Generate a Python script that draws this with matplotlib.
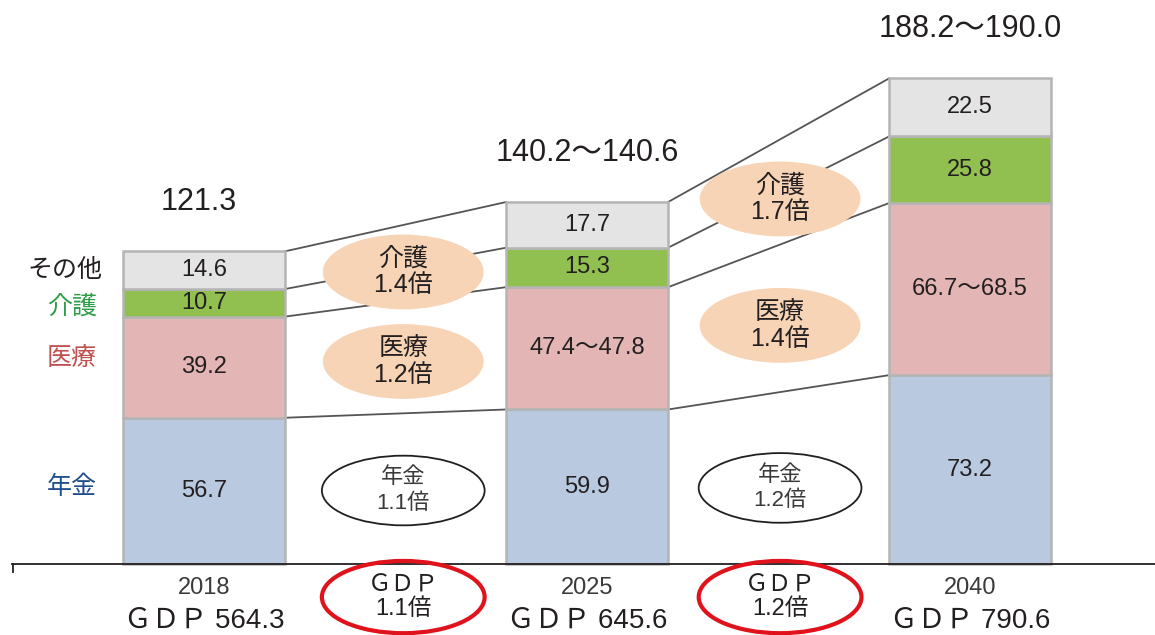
import numpy as np
import matplotlib.pyplot as plt
from matplotlib.patches import Ellipse

plt.rcParams['font.family'] = ['Liberation Sans', 'Noto Sans CJK JP', 'DejaVu Sans']

years = ['2018', '2025', '2040']
pension = [56.7, 59.9, 73.2]
medical = [39.2, 47.4, 66.7]
care = [10.7, 15.3, 25.8]
other = [14.6, 17.7, 22.5]
medical_labels = ['39.2', '47.4～47.8', '66.7～68.5']
totals = ['121.3', '140.2～140.6', '188.2～190.0']
gdp = ['564.3', '645.6', '790.6']

care_ratio = ['1.4倍', '1.7倍']
medical_ratio = ['1.2倍', '1.4倍']
pension_ratio = ['1.1倍', '1.2倍']
gdp_ratio = ['1.1倍', '1.2倍']

series = [pension, medical, care, other]
colors = ['#b8c9e0', '#e3b5b4', '#92c050', '#e4e4e4']
edge = '#b4b4b4'
dark = '#231f20'
w = 0.423

fig = plt.figure(figsize=(11.55, 6.35), dpi=100)
ax = fig.add_axes([0, 0, 1, 1])
ax.set_xlim(-0.533, 2.483)
ax.set_ylim(-27.5, 218.6)
ax.axis('off')

x = np.arange(len(years))
bottom = np.zeros(len(years))
bounds = []
for vals, c in zip(series, colors):
    vals = np.array(vals)
    ax.bar(x, vals, w, bottom=bottom, color=c, edgecolor=edge, linewidth=1.8, zorder=2)
    bottom = bottom + vals
    bounds.append(bottom.copy())

# connector lines between bars
for b in bounds:
    for i in range(len(years) - 1):
        ax.plot([i + w / 2, i + 1 - w / 2], [b[i], b[i + 1]], color='#555555', lw=1.3, zorder=1)

# values inside bars
labels = [[f'{v}' for v in pension], medical_labels, [f'{v}' for v in care], [f'{v}' for v in other]]
bot = np.zeros(len(years))
for vals, labs in zip(series, labels):
    for i in range(len(years)):
        ax.text(x[i], bot[i] + vals[i] / 2, labs[i], ha='center', va='center',
                fontsize=17, color=dark, zorder=3)
    bot = bot + np.array(vals)

# totals on top
for i in range(len(years)):
    ax.text(x[i] - (0.015 if i == 0 else 0), bot[i] + 19, totals[i], ha='center', va='center',
            fontsize=22, color=dark)

# left category labels
ax.text(-0.363, 114, 'その他', ha='center', va='center', fontsize=18, color=dark)
ax.text(-0.345, 99.6, '介護', ha='center', va='center', fontsize=18, color='#2e9e48')
ax.text(-0.345, 79.8, '医療', ha='center', va='center', fontsize=18, color='#c0504d')
ax.text(-0.345, 29.8, '年金', ha='center', va='center', fontsize=18, color='#1f4e8c')

# ratio ellipses between bars
for i in range(len(years) - 1):
    xm = i + 0.5 + (0.02 if i == 0 else 0.004)
    if i == 0:
        yc, ym = 113.2, 78.5
    else:
        yc, ym = 141.5, 92.5
    ax.add_patch(Ellipse((xm, yc), 0.42, 29, facecolor='#f7d4b6', edgecolor='none', zorder=4))
    ax.text(xm, yc, '介護\n' + care_ratio[i], ha='center', va='center', fontsize=18,
            color=dark, linespacing=1.15, zorder=5)
    ax.add_patch(Ellipse((xm, ym), 0.42, 29, facecolor='#f7d4b6', edgecolor='none', zorder=4))
    ax.text(xm, ym, '医療\n' + medical_ratio[i], ha='center', va='center', fontsize=18,
            color=dark, linespacing=1.15, zorder=5)
    yp = 28.5 if i == 0 else 29.5
    ax.add_patch(Ellipse((xm, yp), 0.425, 27, facecolor='white', edgecolor=dark, lw=1.3, zorder=4))
    ax.text(xm, yp, '年金\n' + pension_ratio[i], ha='center', va='center', fontsize=16,
            color='#3a3a3a', linespacing=1.3, zorder=5)
    ax.add_patch(Ellipse((xm, -12.8), 0.425, 28, facecolor='none', edgecolor='#e0121b', lw=3, zorder=4))
    ax.text(xm, -12.8, 'ＧＤＰ\n' + gdp_ratio[i], ha='center', va='center', fontsize=17,
            color=dark, linespacing=1.1, zorder=5)

# baseline
ax.plot([-0.501, 2.483], [0, 0], color=dark, lw=1.3, zorder=3, clip_on=False)
ax.plot([-0.499, -0.499], [0, -3], color=dark, lw=1.3, zorder=3)

for i in range(len(years)):
    ax.text(x[i], -9.3, years[i], ha='center', va='center', fontsize=17, color='#3a3a3a')
    ax.text(x[i], -21.8, 'ＧＤＰ ' + gdp[i], ha='center', va='center', fontsize=20, color=dark)

fig.savefig('out.png', dpi=100)
